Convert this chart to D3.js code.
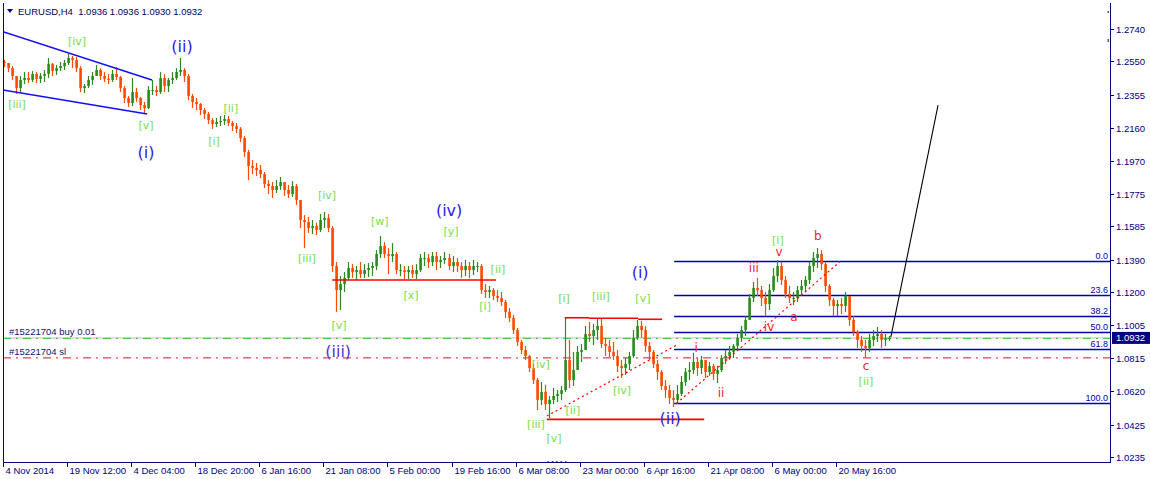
<!DOCTYPE html>
<html><head><meta charset="utf-8">
<script src="https://cdn.jsdelivr.net/npm/d3@7"></script>
<style>html,body{margin:0;padding:0;background:#fff;overflow:hidden}svg{display:block}</style>
</head><body><svg id="c" width="1150" height="479"></svg>
<script>
// ---- data: EURUSD aggregated bars (each = 4 x H4) ----
const firstOpen = 1.2547;
const highs = [
1.2559,1.2541,1.2523,1.2430,1.2465,1.2488,1.2488,1.2494,1.2488,1.2482,
1.2500,1.2570,1.2541,1.2529,1.2547,1.2559,1.2594,1.2582,1.2576,1.2523,
1.2418,1.2465,1.2488,1.2529,1.2511,1.2488,1.2477,1.2500,1.2517,1.2465,
1.2406,1.2348,1.2453,1.2395,1.2342,1.2313,1.2406,1.2442,1.2406,1.2488,
1.2477,1.2453,1.2488,1.2511,1.2570,1.2511,1.2477,1.2360,1.2336,1.2307,
1.2278,1.2254,1.2219,1.2219,1.2231,1.2237,1.2231,1.2202,1.2190,1.2166,
1.2114,1.2032,1.1973,1.1956,1.1944,1.1903,1.1856,1.1844,1.1856,1.1874,
1.1844,1.1827,1.1850,1.1833,1.1739,1.1651,1.1640,1.1622,1.1605,1.1657,
1.1669,1.1657,1.1587,1.1376,1.1294,1.1318,1.1376,1.1364,1.1353,1.1376,
1.1364,1.1370,1.1376,1.1446,1.1528,1.1493,1.1458,1.1487,1.1435,1.1364,
1.1353,1.1353,1.1359,1.1364,1.1423,1.1435,1.1423,1.1435,1.1435,1.1411,
1.1435,1.1423,1.1411,1.1400,1.1376,1.1388,1.1376,1.1388,1.1376,1.1364,
1.1247,1.1236,1.1224,1.1212,1.1201,1.1154,1.1107,1.1066,1.0990,1.0920,
1.0885,1.0832,1.0780,1.0698,1.0674,1.0656,1.0592,1.0639,1.0627,1.0651,
1.1049,1.0920,1.0850,1.0885,1.0896,1.1002,1.1025,1.1013,1.1043,1.1049,
1.0932,1.0920,1.0908,1.0861,1.0803,1.0815,1.0850,1.0978,1.1037,1.1031,
1.1002,1.0908,1.0861,1.0803,1.0744,1.0686,1.0656,1.0627,1.0656,1.0710,
1.0756,1.0791,1.0844,1.0815,1.0826,1.0803,1.0791,1.0780,1.0768,1.0832,
1.0861,1.0885,1.0896,1.0955,1.1002,1.1060,1.1189,1.1259,1.1283,1.1236,
1.1201,1.1247,1.1341,1.1388,1.1376,1.1294,1.1236,1.1201,1.1236,1.1271,
1.1294,1.1376,1.1435,1.1458,1.1446,1.1376,1.1247,1.1166,1.1154,1.1166,
1.1201,1.1177,1.1060,1.0978,1.0943,1.0920,1.0955,1.0978,1.0996,1.0978,
1.0955,1.0943];
const lows = [
1.2517,1.2488,1.2442,1.2360,1.2371,1.2418,1.2424,1.2430,1.2424,1.2424,
1.2430,1.2453,1.2465,1.2471,1.2494,1.2500,1.2529,1.2511,1.2488,1.2371,
1.2366,1.2395,1.2412,1.2465,1.2442,1.2430,1.2418,1.2430,1.2442,1.2371,
1.2307,1.2284,1.2289,1.2313,1.2266,1.2243,1.2272,1.2354,1.2348,1.2360,
1.2371,1.2371,1.2418,1.2442,1.2465,1.2430,1.2324,1.2278,1.2266,1.2237,
1.2213,1.2184,1.2155,1.2166,1.2172,1.2178,1.2172,1.2143,1.2131,1.2079,
1.1991,1.1856,1.1891,1.1880,1.1868,1.1809,1.1774,1.1751,1.1780,1.1798,
1.1763,1.1751,1.1757,1.1710,1.1575,1.1458,1.1546,1.1540,1.1534,1.1552,
1.1575,1.1552,1.1318,1.1084,1.1095,1.1201,1.1271,1.1283,1.1271,1.1283,
1.1283,1.1288,1.1294,1.1329,1.1400,1.1400,1.1306,1.1376,1.1306,1.1294,
1.1271,1.1277,1.1283,1.1277,1.1318,1.1353,1.1341,1.1353,1.1329,1.1341,
1.1364,1.1329,1.1318,1.1318,1.1283,1.1294,1.1283,1.1300,1.1318,1.1189,
1.1166,1.1166,1.1154,1.1142,1.1119,1.1049,1.1025,1.0955,1.0885,1.0838,
1.0803,1.0733,1.0662,1.0510,1.0539,1.0510,1.0463,1.0545,1.0557,1.0569,
1.0616,1.0639,1.0651,1.0768,1.0791,1.0861,1.0908,1.0890,1.0920,1.0873,
1.0826,1.0820,1.0803,1.0733,1.0698,1.0715,1.0744,1.0815,1.0920,1.0932,
1.0850,1.0803,1.0756,1.0686,1.0627,1.0581,1.0545,1.0528,1.0545,1.0592,
1.0651,1.0686,1.0721,1.0710,1.0721,1.0698,1.0710,1.0686,1.0668,1.0733,
1.0780,1.0803,1.0815,1.0861,1.0908,1.0943,1.1049,1.1142,1.1177,1.1119,
1.1060,1.1095,1.1201,1.1259,1.1242,1.1166,1.1136,1.1125,1.1142,1.1177,
1.1201,1.1247,1.1318,1.1341,1.1329,1.1201,1.1119,1.1060,1.1060,1.1072,
1.1084,1.1002,1.0943,1.0873,1.0850,1.0815,1.0850,1.0885,1.0908,1.0873,
1.0885,1.0914];
const closes = [
1.2541,1.2511,1.2465,1.2395,1.2442,1.2453,1.2442,1.2477,1.2448,1.2465,
1.2477,1.2536,1.2494,1.2511,1.2523,1.2541,1.2570,1.2559,1.2511,1.2395,
1.2406,1.2442,1.2465,1.2500,1.2465,1.2448,1.2442,1.2477,1.2459,1.2395,
1.2336,1.2307,1.2371,1.2336,1.2295,1.2278,1.2383,1.2383,1.2371,1.2453,
1.2406,1.2442,1.2453,1.2488,1.2500,1.2465,1.2348,1.2313,1.2301,1.2266,
1.2243,1.2207,1.2184,1.2196,1.2202,1.2213,1.2190,1.2172,1.2155,1.2102,
1.2020,1.1938,1.1927,1.1915,1.1891,1.1833,1.1821,1.1798,1.1821,1.1844,
1.1798,1.1774,1.1821,1.1739,1.1622,1.1610,1.1575,1.1587,1.1564,1.1622,
1.1634,1.1575,1.1353,1.1212,1.1247,1.1283,1.1341,1.1318,1.1329,1.1306,
1.1329,1.1341,1.1353,1.1423,1.1470,1.1423,1.1411,1.1423,1.1329,1.1329,
1.1318,1.1329,1.1306,1.1329,1.1400,1.1400,1.1376,1.1411,1.1376,1.1388,
1.1400,1.1353,1.1376,1.1353,1.1329,1.1353,1.1329,1.1353,1.1353,1.1212,
1.1201,1.1212,1.1177,1.1166,1.1142,1.1084,1.1049,1.0978,1.0908,1.0861,
1.0826,1.0756,1.0686,1.0569,1.0616,1.0545,1.0569,1.0592,1.0604,1.0627,
1.0803,1.0686,1.0744,1.0850,1.0861,1.0955,1.0943,1.0978,1.1002,1.0896,
1.0885,1.0850,1.0826,1.0768,1.0756,1.0780,1.0826,1.0932,1.1002,1.0978,
1.0885,1.0850,1.0780,1.0733,1.0651,1.0627,1.0581,1.0569,1.0604,1.0674,
1.0733,1.0744,1.0791,1.0756,1.0803,1.0733,1.0768,1.0721,1.0744,1.0815,
1.0826,1.0850,1.0885,1.0932,1.0978,1.1037,1.1166,1.1224,1.1212,1.1166,
1.1130,1.1212,1.1294,1.1353,1.1271,1.1189,1.1166,1.1166,1.1212,1.1236,
1.1271,1.1353,1.1400,1.1423,1.1364,1.1236,1.1154,1.1119,1.1130,1.1119,
1.1177,1.1037,1.0966,1.0920,1.0885,1.0873,1.0920,1.0943,1.0955,1.0920,
1.0926,1.0932];

const timeLabels = ["4 Nov 2014","19 Nov 12:00","4 Dec 04:00","18 Dec 20:00","6 Jan 16:00","21 Jan 08:00","5 Feb 00:00","19 Feb 16:00","6 Mar 08:00","23 Mar 00:00","6 Apr 16:00","21 Apr 08:00","6 May 00:00","20 May 16:00"];
const timeLabelBars = [0,16,32,48,64,80,96,112,128,144,160,176,192,208];
const priceTicks = [1.2740,1.2550,1.2355,1.2160,1.1970,1.1775,1.1585,1.1390,1.1200,1.1005,1.0815,1.0620,1.0425,1.0235];
const lastPrice = 1.0932;
const slPrice = 1.0815;
const fibLevels = [0,23.6,38.2,50,61.8,100];
const fibHigh = 1.1380, fibLow = 1.0549, fibStartBar = 167.6;

// drawn objects (bar index, price)
const wedgeLines = [[[0,1.2724],[37.2,1.2442]],[[0,1.2383],[36.0,1.2243]]];
const redLevels = [[82.2,123.1,1.1271],[140.3,146.3,1.1050],[146.3,158.6,1.1047],[158.6,164.6,1.1041],[135.8,175.1,1.0455]];
const redDotted = [[[135.8,1.0475],[168.3,1.0891]],[[168.2,1.0549],[209.0,1.1378]]];
const projection = [[221.7,1.0936],[233.5,1.2295]];

const waveLabels = [
 ["[iii]",3.5,1.2301,"g"],["[iv]",18.5,1.2664,"g"],["[v]",35.7,1.2178,"g"],
 ["(i)",35.7,1.2020,"b"],["(ii)",44.7,1.2640,"b"],
 ["[ii]",56.9,1.2272,"g"],["[i]",52.7,1.2084,"g"],
 ["[iv]",80.9,1.1763,"g"],["[iii]",75.9,1.1394,"g"],["[v]",83.9,1.1007,"g"],
 ["(iii)",83.7,1.0850,"p"],
 ["[w]",94.1,1.1616,"g"],["[x]",101.9,1.1183,"g"],["(iv)",111.4,1.1675,"b"],["[y]",111.9,1.1552,"g"],
 ["[ii]",123.6,1.1335,"g"],["[i]",120.4,1.1113,"g"],
 ["[i]",140.1,1.1160,"g"],["[iii]",149.3,1.1172,"g"],["(i)",159.1,1.1312,"b"],["[v]",159.8,1.1160,"g"],
 ["[iv]",134.3,1.0779,"g"],["[iv]",154.6,1.0627,"g"],["[ii]",142.3,1.0510,"g"],
 ["[iii]",133.1,1.0428,"g"],["[v]",137.6,1.0346,"g"],["(ii)",166.6,1.0463,"b"],
 ["(iii)",138.3,1.0172,"b"],
 ["i",173.1,1.0873,"r"],["ii",179.3,1.0610,"r"],["iii",187.5,1.1341,"r"],["iv",191.3,1.0996,"r"],
 ["v",193.8,1.1435,"r"],["[i]",193.5,1.1505,"g"],["a",197.5,1.1054,"r"],["b",203.5,1.1528,"r"],
 ["c",215.5,1.0768,"r"],["[ii]",215.5,1.0674,"g"]
];

// ---- layout ----
const L = 3, R = 1110, T = 3, B = 462;
const svg = d3.select("#c");
const x = d3.scaleLinear().domain([0,222]).range([3,892]);
const y = d3.scaleLinear().domain([1.0235,1.2740]).range([457,29]);
const NAVY = "#000080";
const AX = "Liberation Sans, Arial, sans-serif";

svg.append("defs").append("clipPath").attr("id","plot")
  .append("rect").attr("x",L).attr("y",T).attr("width",R-L).attr("height",B-T);
const g = svg.append("g").attr("clip-path","url(#plot)");

// bid line + order lines
g.append("line").attr("x1",L).attr("x2",R).attr("y1",y(lastPrice)).attr("y2",y(lastPrice))
  .attr("stroke","#c0c0c0").attr("stroke-width",1);
g.append("line").attr("x1",L).attr("x2",R).attr("y1",y(lastPrice)+0.5).attr("y2",y(lastPrice)+0.5)
  .attr("stroke","#32cd32").attr("stroke-width",1).attr("stroke-dasharray","8,5,2,5");
g.append("line").attr("x1",L).attr("x2",R).attr("y1",y(slPrice)).attr("y2",y(slPrice))
  .attr("stroke","#e4102a").attr("stroke-width",1).attr("stroke-dasharray","8,5,2,5");

// fib lines
fibLevels.forEach(lv=>{
  const p = fibHigh - (fibHigh-fibLow)*lv/100;
  const yy = Math.round(y(p))+0.5;
  g.append("line").attr("x1",x(fibStartBar)).attr("x2",R).attr("y1",yy).attr("y2",yy)
    .attr("stroke","#0000a8").attr("stroke-width",1.5);
  g.append("text").attr("x",R-2).attr("y",yy-2.5).attr("text-anchor","end")
    .attr("font-family",AX).attr("font-size",9).attr("fill","#0000a8").text(lv.toFixed(1));
});

// bars
const bars = closes.map((c,i)=>({i, o: i===0?firstOpen:closes[i-1], h: highs[i], l: lows[i], c}));
const bg = g.append("g");
bars.forEach(d=>{
  const up = d.c >= d.o;
  const col = up ? "#2a8a1e" : "#ff4a00";
  const x0 = x(d.i);
  const cx = Math.round(x0)+1.5;
  bg.append("line").attr("x1",cx).attr("x2",cx).attr("y1",y(d.h)).attr("y2",y(d.l))
    .attr("stroke",col).attr("stroke-width",1.2);
  const yt = y(Math.max(d.o,d.c)), yb = y(Math.min(d.o,d.c));
  bg.append("rect").attr("x",Math.round(x0)+0.3).attr("y",yt).attr("width",2.6)
    .attr("height",Math.max(1,yb-yt)).attr("fill",col);
});

// wedge lines
wedgeLines.forEach(s=>{
  g.append("line").attr("x1",x(s[0][0])).attr("y1",y(s[0][1])).attr("x2",x(s[1][0])).attr("y2",y(s[1][1]))
   .attr("stroke","#1010ff").attr("stroke-width",1.5);
});
// red levels
redLevels.forEach(s=>{
  g.append("line").attr("x1",x(s[0])).attr("x2",x(s[1])).attr("y1",y(s[2])).attr("y2",y(s[2]))
   .attr("stroke","#ff0000").attr("stroke-width",1.6);
});
redDotted.forEach(s=>{
  g.append("line").attr("x1",x(s[0][0])).attr("y1",y(s[0][1])).attr("x2",x(s[1][0])).attr("y2",y(s[1][1]))
   .attr("stroke","#ff0000").attr("stroke-width",1.2).attr("stroke-dasharray","2,3");
});
g.append("line").attr("x1",x(projection[0][0])).attr("y1",y(projection[0][1]))
  .attr("x2",x(projection[1][0])).attr("y2",y(projection[1][1]))
  .attr("stroke","#000").attr("stroke-width",1.1);

// wave labels
const colors = {g:"#74dc4c", b:"#2a22e6", p:"#5a2ed0", r:"#e8262e"};
waveLabels.forEach(([t,i,p,c])=>{
  const big = (c==="b"||c==="p");
  g.append("text").attr("x",x(i)).attr("y",y(p)).attr("text-anchor","middle")
   .attr("dominant-baseline","central")
   .attr("font-family","DejaVu Sans, Verdana, sans-serif")
   .attr("font-size", big?16:(c==="r"?12:11))
   .attr("fill",colors[c]).text(t);
});

// order texts
g.append("text").attr("x",9).attr("y",y(lastPrice)-2.5).attr("font-family",AX).attr("font-size",9.5)
  .attr("fill","#101070").text("#15221704 buy 0.01");
g.append("text").attr("x",9).attr("y",y(slPrice)-3).attr("font-family",AX).attr("font-size",9.5)
  .attr("fill","#101070").text("#15221704 sl");

// small green marks at top right
g.append("rect").attr("x",R-2.5).attr("y",11).attr("width",1.5).attr("height",2).attr("fill","#2a8a1e");
g.append("rect").attr("x",R-2.5).attr("y",39).attr("width",1.5).attr("height",3).attr("fill","#2a8a1e");

// frame
svg.append("line").attr("x1",L+0.5).attr("x2",L+0.5).attr("y1",T).attr("y2",B).attr("stroke",NAVY);
svg.append("line").attr("x1",R+0.5).attr("x2",R+0.5).attr("y1",T).attr("y2",B+0.5).attr("stroke",NAVY);
svg.append("line").attr("x1",L).attr("x2",R+1).attr("y1",B+0.5).attr("y2",B+0.5).attr("stroke",NAVY);

// right axis
priceTicks.forEach(p=>{
  const yy = Math.round(y(p))+0.5;
  svg.append("line").attr("x1",R).attr("x2",R+4).attr("y1",yy).attr("y2",yy).attr("stroke",NAVY);
  svg.append("text").attr("x",R+6).attr("y",yy).attr("dominant-baseline","central")
    .attr("font-family",AX).attr("font-size",9.5).attr("fill",NAVY).text(p.toFixed(4));
});
// current price box
const yl = y(lastPrice);
svg.append("rect").attr("x",R+2).attr("y",yl-6).attr("width",38).attr("height",12).attr("fill",NAVY);
svg.append("text").attr("x",R+6).attr("y",yl).attr("dominant-baseline","central")
  .attr("font-family",AX).attr("font-size",9.5).attr("fill","#fff").text(lastPrice.toFixed(4));

// bottom axis
timeLabels.forEach((t,k)=>{
  const xx = Math.round(x(timeLabelBars[k]))+0.5;
  svg.append("line").attr("x1",xx).attr("x2",xx).attr("y1",B).attr("y2",B+5).attr("stroke",NAVY);
  svg.append("text").attr("x",xx+2).attr("y",474).attr("font-family",AX).attr("font-size",9.5)
    .attr("fill",NAVY).text(t);
});

// header
svg.append("path").attr("d","M7,9 L13,9 L10,13 Z").attr("fill",NAVY);
svg.append("text").attr("x",18).attr("y",15).attr("font-family",AX).attr("font-size",9.5)
  .attr("fill","#000060").attr("xml:space","preserve").text("EURUSD,H4  1.0936 1.0936 1.0930 1.0932");
</script></body></html>
